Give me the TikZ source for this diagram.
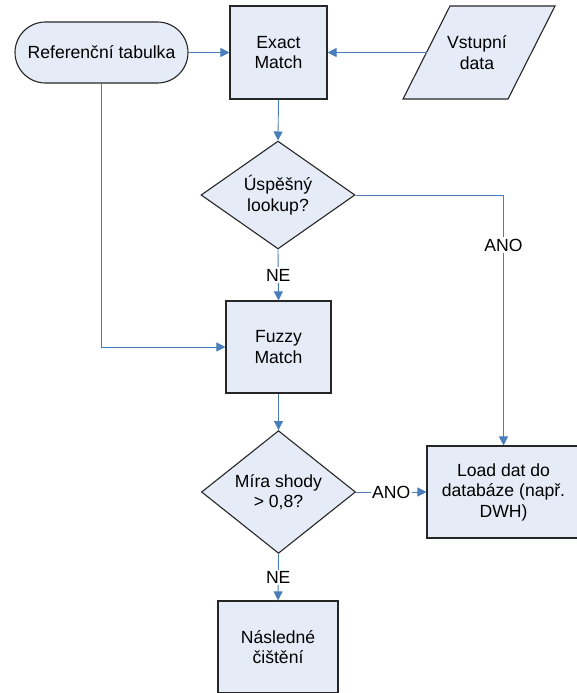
\documentclass[tikz,border=0pt]{standalone}
\usepackage{fontspec}
\setmainfont{Liberation Sans}
\usetikzlibrary{shapes.geometric,arrows.meta}
\definecolor{flowfill}{HTML}{E6ECF7}
\definecolor{flowline}{HTML}{4A7EBB}
\begin{document}
\begin{tikzpicture}[x=1pt,y=-1pt,font=\fontsize{17.6}{20.5}\selectfont,
        box/.style={draw=black!85,line width=1.1pt,fill=flowfill,align=center,inner sep=0pt},
        proc/.style={box,rectangle,minimum height=92pt},
        test/.style={box,diamond,minimum width=154pt,minimum height=92pt},
        flow/.style={draw=flowline,line width=0.9pt,-{Triangle[length=9pt,width=9pt]}},
        answer/.style={fill=white,inner sep=1.5pt}]
        \useasboundingbox (0,0) rectangle (577,693);
        \node[box,rounded corners=30.5pt,minimum width=173pt,minimum height=61pt] (ref) at (101.5,52.5) {Referenční tabulka};
        \node[proc,minimum width=97pt,minimum height=93pt] (exact) at (278.5,52.5) {Exact\\Match};
        \draw [box] (403,99) -- (450,6) -- (555,6) -- (508,99) -- cycle;
        \node[align=center,inner sep=0pt] (vstup) at (477,52.5) {Vstupní\\data};
        \coordinate (vstupW) at (426.5,52.5);
        \node[test] (lookup) at (278,195) {Úspěšný\\lookup?};
        \node[proc,minimum width=105pt] (fuzzy) at (278.5,347) {Fuzzy\\Match};
        \node[test] (shoda) at (278.5,492) {Míra shody\\> 0,8?};
        \node[proc,minimum width=153pt] (load) at (503.5,492) {Load dat do\\databáze (např.\\DWH)};
        \node[proc,minimum width=120pt] (cisteni) at (278,647) {Následné\\čištění};
        \draw [flow] (ref.east) -- (exact.west);
        \draw [flow] (vstupW) -- (exact.east);
        \draw [flow] (exact.south) -- (lookup.north);
        \draw [flow] (lookup.south) -- (fuzzy.north) node [answer,midway] {NE};
        \draw [flow] (lookup.east) -| (load.north) node [answer,pos=0.6] {ANO};
        \draw [flow] (ref.south) |- (fuzzy.west);
        \draw [flow] (fuzzy.south) -- (shoda.north);
        \draw [flow] (shoda.east) -- (load.west) node [answer,midway] {ANO};
        \draw [flow] (shoda.south) -- (cisteni.north) node [answer,midway] {NE};
    \end{tikzpicture}
\end{document}
